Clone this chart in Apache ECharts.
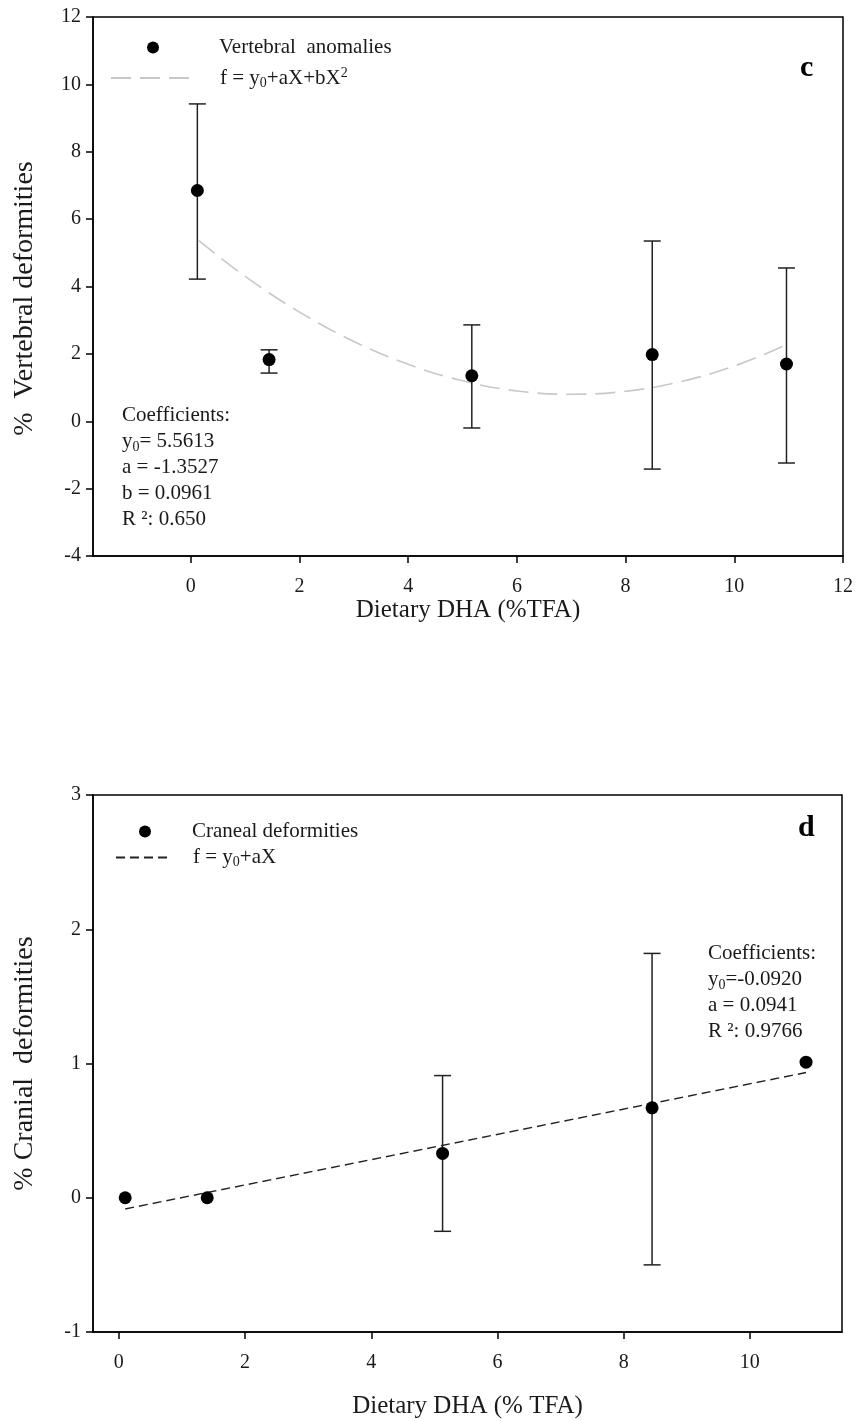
<!DOCTYPE html>
<html><head><meta charset="utf-8">
<script src="https://cdn.jsdelivr.net/npm/echarts@6/dist/echarts.min.js"></script>
<style>html,body{margin:0;padding:0;background:#fff}#c{width:857px;height:1421px}</style>
</head><body><div id="c"></div>
<script>
// ---- Panel c : vertebral deformities ----
const cX    = [0.12, 1.44, 5.17, 8.49, 10.96];
const cY    = [6.85, 1.83, 1.35, 1.98, 1.70];
const cLow  = [4.22, 1.43, -0.20, -1.42, -1.24];
const cHigh = [9.42, 2.12, 2.86, 5.35, 4.55];
const cFitX = [0.15, 1, 2, 3, 4, 5, 6, 7, 8, 9, 10, 10.9];
const cFitY = [5.36, 4.30, 3.24, 2.37, 1.69, 1.20, 0.90, 0.80, 0.89, 1.17, 1.64, 2.23];
const cXTicks = [0, 2, 4, 6, 8, 10, 12];
const cYTicks = [-4, -2, 0, 2, 4, 6, 8, 10, 12];
// ---- Panel d : cranial deformities ----
const dX    = [0.10, 1.40, 5.13, 8.45, 10.89];
const dY    = [0.00, 0.00, 0.33, 0.67, 1.01];
const dLow  = [null, null, -0.25, -0.50, null];
const dHigh = [null, null, 0.91, 1.82, null];
const dFitX = [0.10, 10.89];
const dFitY = [-0.083, 0.933];
const dXTicks = [0, 2, 4, 6, 8, 10];
const dYTicks = [-1, 0, 1, 2, 3];

const FONT = 'Liberation Serif';
const TXT = '#1a1a1a';
const zip = (a, b) => a.map((v, i) => [v, b[i]]);
const errData = (xs, lo, hi) => xs.map((x, i) => [x, lo[i], hi[i]]).filter(r => r[1] != null);

function errSeries(name, data, axis) {
  return {
    type: 'custom', name: name, xAxisIndex: axis, yAxisIndex: axis, z: 3,
    data: data, encode: {x: 0, y: [1, 2]},
    renderItem: function (params, api) {
      const x = api.value(0);
      const lo = api.coord([x, api.value(1)]);
      const hi = api.coord([x, api.value(2)]);
      const hw = 8.5;
      const st = {stroke: '#222', lineWidth: 1.5};
      return {type: 'group', children: [
        {type: 'line', shape: {x1: lo[0], y1: lo[1], x2: hi[0], y2: hi[1]}, style: st},
        {type: 'line', shape: {x1: hi[0] - hw, y1: hi[1], x2: hi[0] + hw, y2: hi[1]}, style: st},
        {type: 'line', shape: {x1: lo[0] - hw, y1: lo[1], x2: lo[0] + hw, y2: lo[1]}, style: st}
      ]};
    }
  };
}

function xAxis(idx, min, max, ticks, name, gap) {
  return {
    type: 'value', gridIndex: idx, min: min, max: max,
    name: name, nameLocation: 'middle', nameGap: gap,
    nameTextStyle: {fontFamily: FONT, fontSize: 25, color: TXT},
    axisLine: {show: true, onZero: false, lineStyle: {color: '#000', width: 1.5}},
    axisTick: {show: true, inside: false, length: 7, customValues: ticks, lineStyle: {color: '#000', width: 1.5}},
    axisLabel: {customValues: ticks, margin: 21, fontFamily: FONT, fontSize: 20, color: TXT},
    splitLine: {show: false}
  };
}
function yAxis(idx, min, max, ticks, name, gap, pad) {
  return {
    type: 'value', gridIndex: idx, min: min, max: max,
    name: name, nameLocation: 'middle', nameGap: gap, nameRotate: 90,
    nameTextStyle: {fontFamily: FONT, fontSize: 28, color: TXT, padding: pad},
    axisLine: {show: true, onZero: false, lineStyle: {color: '#000', width: 1.5}},
    axisTick: {show: true, inside: false, length: 7, customValues: ticks, lineStyle: {color: '#000', width: 1.5}},
    axisLabel: {customValues: ticks, margin: 12, fontFamily: FONT, fontSize: 20, color: TXT},
    splitLine: {show: false}
  };
}

const richLegend = {
  t: {fontFamily: FONT, fontSize: 21, color: TXT, lineHeight: 24},
  sub: {fontFamily: FONT, fontSize: 14, color: TXT, verticalAlign: 'bottom', lineHeight: 15},
  sup: {fontFamily: FONT, fontSize: 14, color: TXT, verticalAlign: 'top', lineHeight: 15}
};
const fitC = 'f = y0+aX+bX2';
const fitD = 'f = y0+aX';
const hideSym = {opacity: 0, color: 'transparent', borderWidth: 0};
const coefRich = {
  t: {fontFamily: FONT, fontSize: 21, fontWeight: 'normal', color: TXT, lineHeight: 26},
  s: {fontFamily: FONT, fontSize: 14, fontWeight: 'normal', color: TXT, lineHeight: 26, verticalAlign: 'bottom'}
};

const option = {
  animation: false,
  backgroundColor: '#fff',
  grid: [
    {left: 93, top: 17, width: 750, height: 539, show: true, borderColor: '#000', borderWidth: 1.5, containLabel: false},
    {left: 93, top: 795, width: 749, height: 537, show: true, borderColor: '#000', borderWidth: 1.5, containLabel: false}
  ],
  xAxis: [
    xAxis(0, -1.8, 12, cXTicks, 'Dietary DHA (%TFA)', 41),
    xAxis(1, -0.41, 11.46, dXTicks, 'Dietary DHA (% TFA)', 62)
  ],
  yAxis: [
    yAxis(0, -4, 12, cYTicks, '%  Vertebral deformities', 54, [0, 24, 0, 0]),
    yAxis(1, -1, 3, dYTicks, '% Cranial  deformities', 54, 0)
  ],
  legend: [
    {data: ['Vertebral anomalies'], left: 147, top: 37, padding: 0, icon: 'circle', itemWidth: 12, itemHeight: 12,
     selectedMode: false, textStyle: {fontFamily: FONT, fontSize: 21, color: TXT, padding: [0, 0, 0, 55]},
     formatter: () => 'Vertebral  anomalies'},
    {data: [fitC], left: 110, top: 66, padding: 0, itemWidth: 80, itemHeight: 14, selectedMode: false,
     itemStyle: hideSym,
     textStyle: {padding: [0, 0, 0, 24], rich: richLegend},
     formatter: () => '{t|f = y}{sub|0}{t|+aX+bX}{sup|2}'},
    {data: ['Craneal deformities'], left: 139, top: 821, padding: 0, icon: 'circle', itemWidth: 12, itemHeight: 12,
     selectedMode: false, textStyle: {fontFamily: FONT, fontSize: 21, color: TXT, padding: [0, 0, 0, 36]}},
    {data: [fitD], left: 115, top: 847, padding: 0, itemWidth: 55, itemHeight: 14, selectedMode: false,
     itemStyle: hideSym,
     textStyle: {padding: [0, 0, 0, 17], rich: richLegend},
     formatter: () => '{t|f = y}{sub|0}{t|+aX}'}
  ],
  title: [
    {text: 'c', left: 795, top: 48, textStyle: {fontFamily: FONT, fontSize: 30, fontWeight: 'bold', color: '#000'}},
    {text: 'd', left: 793, top: 808, textStyle: {fontFamily: FONT, fontSize: 30, fontWeight: 'bold', color: '#000'}},
    {text: '{t|Coefficients:}\n{t|y}{s|0}{t|= 5.5613}\n{t|a = -1.3527}\n{t|b = 0.0961}\n{t|R ²: 0.650}',
     left: 122, top: 402, padding: 0, textStyle: {fontWeight: 'normal', rich: coefRich}},
    {text: '{t|Coefficients:}\n{t|y}{s|0}{t|=-0.0920}\n{t|a = 0.0941}\n{t|R ²: 0.9766}',
     left: 708, top: 940, padding: 0, textStyle: {fontWeight: 'normal', rich: coefRich}}
  ],
  series: [
    errSeries('errC', errData(cX, cLow, cHigh), 0),
    {type: 'line', name: fitC, xAxisIndex: 0, yAxisIndex: 0, data: zip(cFitX, cFitY), smooth: 0.4,
     symbol: 'none', z: 2, lineStyle: {color: '#c8c8c8', width: 1.6, type: [20, 9]}, itemStyle: {color: '#c8c8c8'}},
    {type: 'scatter', name: 'Vertebral anomalies', xAxisIndex: 0, yAxisIndex: 0, data: zip(cX, cY),
     symbolSize: 13, z: 5, itemStyle: {color: '#000', opacity: 1}},
    errSeries('errD', errData(dX, dLow, dHigh), 1),
    {type: 'line', name: fitD, xAxisIndex: 1, yAxisIndex: 1, data: zip(dFitX, dFitY),
     symbol: 'none', z: 2, lineStyle: {color: '#222', width: 1.5, type: [9, 5]}, itemStyle: {color: '#222'}},
    {type: 'scatter', name: 'Craneal deformities', xAxisIndex: 1, yAxisIndex: 1, data: zip(dX, dY),
     symbolSize: 13, z: 5, itemStyle: {color: '#000', opacity: 1}}
  ]
};
const chart = echarts.init(document.getElementById('c'), null, {renderer: 'canvas'});
chart.setOption(option);
</script>
</body></html>
